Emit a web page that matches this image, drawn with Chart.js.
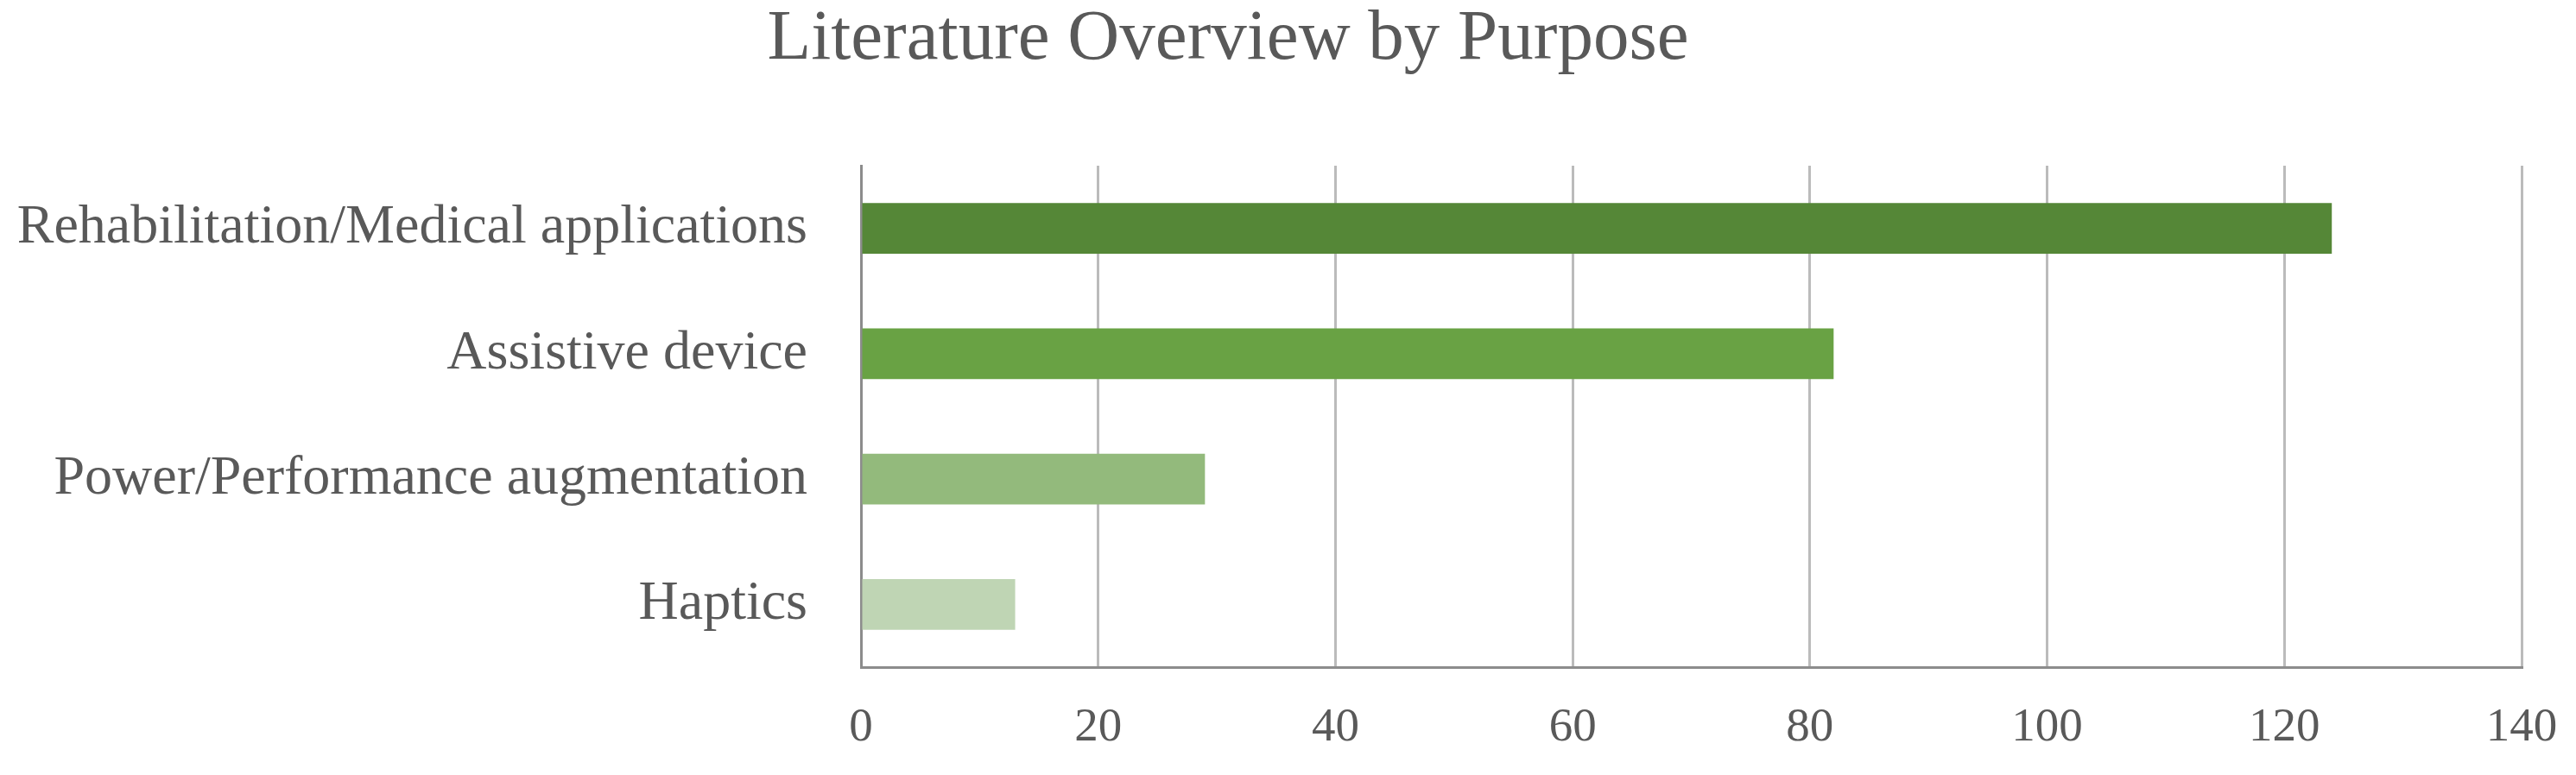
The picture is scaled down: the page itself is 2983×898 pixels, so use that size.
<!DOCTYPE html>
<html>
<head>
<meta charset="utf-8">
<script src="https://cdn.jsdelivr.net/npm/chart.js@4"></script>
<style>
html,body{margin:0;padding:0;background:#fff;}
#wrap{width:2983px;height:898px;position:relative;}
</style>
</head>
<body>
<div id="wrap"><canvas id="c" width="2983" height="898"></canvas></div>
<script>
const chartTitle = "Literature Overview by Purpose";
const categories = ["Rehabilitation/Medical applications", "Assistive device", "Power/Performance augmentation", "Haptics"];
const values = [124, 82, 29, 13];
const barColors = ["#558737", "#69A244", "#93BA7C", "#BFD5B4"];
const xTicks = [0, 20, 40, 60, 80, 100, 120, 140];

const FONT = "'Liberation Serif', 'Times New Roman', serif";
const TEXT = "#595959";

const titlePlugin = {
  id: 'customTitle',
  afterDraw(chart) {
    const ctx = chart.ctx;
    ctx.save();
    ctx.font = "83px " + FONT;
    ctx.fillStyle = TEXT;
    ctx.textAlign = "center";
    ctx.textBaseline = "alphabetic";
    ctx.fillText(chartTitle, 1422, 68);
    ctx.restore();
  }
};

new Chart(document.getElementById('c'), {
  type: 'bar',
  data: {
    labels: categories,
    datasets: [{
      data: values,
      backgroundColor: barColors,
      borderWidth: 0,
      barPercentage: 0.81,
      categoryPercentage: 0.5
    }]
  },
  options: {
    indexAxis: 'y',
    responsive: false,
    animation: false,
    devicePixelRatio: 1,
    layout: { padding: { top: 192, right: 63, left: 0, bottom: 0 } },
    plugins: { legend: { display: false }, tooltip: { enabled: false }, title: { display: false } },
    scales: {
      x: {
        min: xTicks[0],
        max: xTicks[xTicks.length - 1],
        afterBuildTicks(scale) { scale.ticks = xTicks.map(v => ({ value: v })); },
        afterFit(scale) { scale.height = 125; scale.paddingRight = 0; scale.paddingLeft = 0; },
        grid: { display: true, color: "#BBBBBB", lineWidth: 3, drawTicks: false },
        border: { display: true, color: "#8C8C8C", width: 3 },
        ticks: { color: TEXT, font: { family: FONT, size: 55 }, padding: 38 }
      },
      y: {
        afterFit(scale) { scale.width = 997; scale.paddingTop = 0; scale.paddingBottom = 0; },
        grid: { display: false, drawTicks: false },
        border: { display: true, color: "#8C8C8C", width: 3 },
        ticks: { color: TEXT, font: { family: FONT, size: 64 }, padding: 62 }
      }
    }
  },
  plugins: [titlePlugin]
});
</script>
</body>
</html>
